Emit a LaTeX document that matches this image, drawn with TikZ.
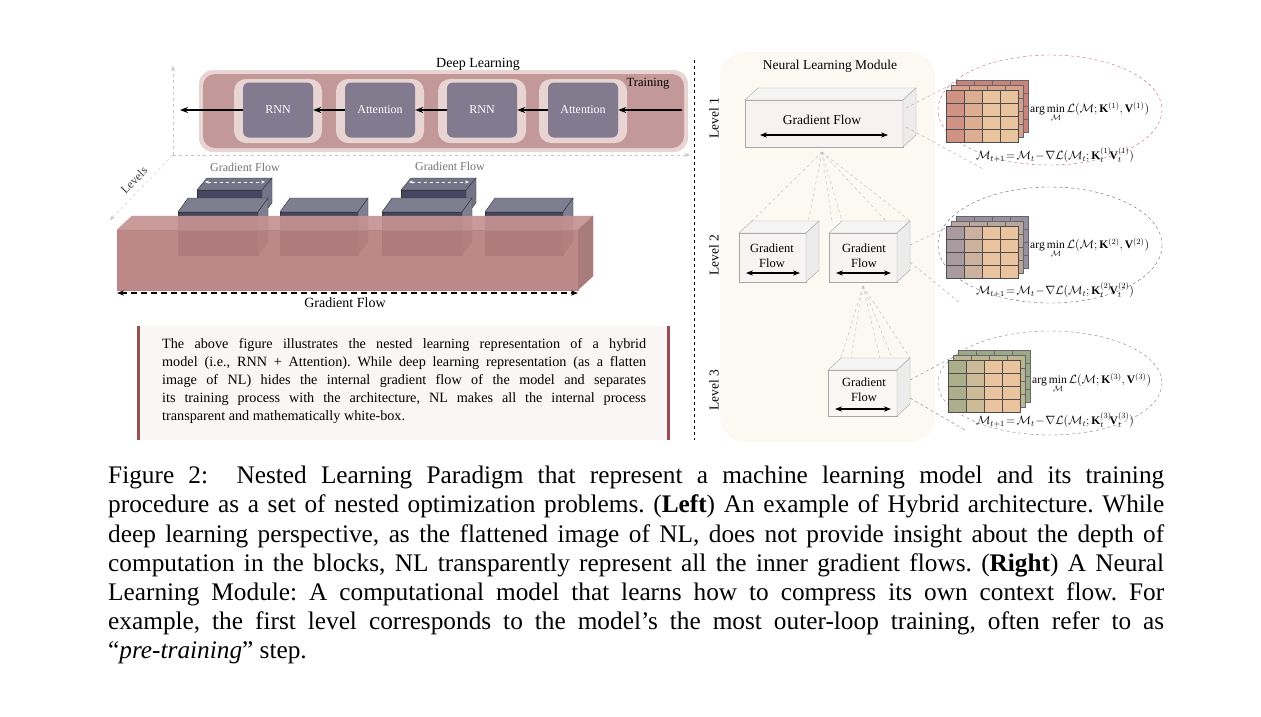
\documentclass[tikz,border=0pt]{standalone}
\usepackage{fontspec}
\usepackage{amsmath}
\setmainfont{Liberation Serif}
\usetikzlibrary{arrows.meta}
\definecolor{pinkbar}{RGB}{205,160,160}
\definecolor{blk}{RGB}{130,122,142}
\definecolor{slate}{RGB}{70,70,98}
\definecolor{prismc}{RGB}{185,128,128}
\definecolor{tanc}{RGB}{233,196,158}
\definecolor{redc}{RGB}{185,105,110}
\definecolor{bluec}{RGB}{115,120,160}
\definecolor{greenc}{RGB}{120,158,125}
\definecolor{cream}{RGB}{252,249,243}
\definecolor{boxbg}{RGB}{250,246,246}
\definecolor{darkred}{RGB}{150,80,80}
\newcommand\pz[8]{%
 \filldraw[#7] (#1,#2) rectangle (#3,#4);
 \filldraw[#8] (#1,#2)--({#1+#5},{#2-#6})--({#3+#5},{#2-#6})--(#3,#2)--cycle;
 \filldraw[#8] (#3,#2)--({#3+#5},{#2-#6})--({#3+#5},{#4-#6})--(#3,#4)--cycle;
}
\newcommand\wbox[5]{% x1 y1 x2 y2 fill
 \draw[gray!70,fill=#5] (#1,#2) rectangle (#3,#4);
 \draw[gray!70,fill=white!92!gray] (#1,#2)--({#1+13},{#2-12})--({#3+13},{#2-12})--(#3,#2)--cycle;
 \draw[gray!70,fill=white!85!gray] (#3,#2)--({#3+13},{#2-12})--({#3+13},{#4-12})--(#3,#4)--cycle;
}
\newcommand\mcube[3]{% x y color
 \foreach \i in {0,...,3}{\foreach \j in {0,...,3}{
  \draw[black!60,fill=#3!70!tanc] ({#1+10+18*\i},{#2-10+13*\j}) rectangle +(18,13);}}
 \foreach \i in {0,...,3}{\foreach \j in {0,...,3}{
  \draw[black!60,fill=#3!40!tanc] ({#1+5+18*\i},{#2-5+13*\j}) rectangle +(18,13);}}
 \foreach \i in {0,...,3}{\foreach \j in {0,...,3}{
  \pgfmathsetmacro\mix{\i==0 ? 55 : (\i==1 ? 25 : 0)}
  \draw[black!70,fill=#3!\mix!tanc] ({#1+18*\i},{#2+13*\j}) rectangle +(18,13);}}
}
\tikzset{
 blkbox/.style={fill=blk,rounded corners=6pt,minimum width=70pt,minimum height=55pt,text=white,font=\fontsize{12}{14}\selectfont},
 flow/.style={-{Stealth[length=8pt,width=6pt]},line width=1.4pt},
 axis/.style={gray!45,dashed,-{Stealth[length=5pt]}},
 lbl/.style={font=\fontsize{14}{16}\selectfont},
 gdash/.style={gray!55,dashed},
 dbl/.style={{Stealth[length=7pt]}-{Stealth[length=7pt]},line width=1.3pt},
 fml/.style={font=\fontsize{11.5}{13}\selectfont},
}
\begin{document}
\begin{tikzpicture}[x=1pt,y=-1pt]
\useasboundingbox[fill=white] (0,0) rectangle (1261,716);
% ---------- left panel
\node[lbl] (dl) at (478,64) {Deep Learning};
\fill[pinkbar!45,rounded corners=14pt] (199,70) rectangle (688,152);
\fill[pinkbar!95!black,rounded corners=12pt] (203,74) rectangle (684,148);
\foreach \x in {278,380,482,583}{\fill[pinkbar!45,rounded corners=12pt] (\x-44,79) rectangle (\x+44,143);}
\node[blkbox] (r1) at (278,110) {RNN};
\node[blkbox] (a1) at (380,110) {Attention};
\node[blkbox] (r2) at (482,110) {RNN};
\node[blkbox] (a2) at (583,110) {Attention};
\node[font=\fontsize{12.5}{14}\selectfont] (tr) at (648,84) {Training};
\coordinate (in) at (682,110);
\coordinate (out) at (180,110);
\draw[flow] (in) -- (a2);
\draw[flow] (a2) -- (r2);
\draw[flow] (r2) -- (a1);
\draw[flow] (a1) -- (r1);
\draw[flow] (r1) -- (out);
% axes
\coordinate (o) at (173,155);
\coordinate (ay) at (173,66);
\coordinate (ax) at (690,155);
\coordinate (az) at (110,220);
\draw[axis] (o)--(ay);
\draw[axis] (o)--(ax);
\draw[axis] (o)--(az);
\node[rotate=45,inner sep=0pt,font=\fontsize{12}{14}\selectfont,text=black!75] (lv) at (134,180) {Levels};
% blocks
\pz{197}{190}{262}{215}{10}{12}{draw=black!80,fill=slate}{draw=black!80,fill=slate!75!white}
\pz{401}{190}{466}{215}{10}{12}{draw=black!80,fill=slate}{draw=black!80,fill=slate!75!white}
\pz{178}{212}{258}{255}{10}{14}{draw=black!80,fill=slate}{draw=black!80,fill=slate!70!white}
\pz{280}{212}{358}{255}{10}{14}{draw=black!80,fill=slate}{draw=black!80,fill=slate!70!white}
\pz{382}{212}{462}{255}{10}{14}{draw=black!80,fill=slate}{draw=black!80,fill=slate!70!white}
\pz{485}{212}{563}{255}{10}{14}{draw=black!80,fill=slate}{draw=black!80,fill=slate!70!white}
\draw[white,dashed,{Stealth[length=4pt]}-{Stealth[length=4pt]}] (205,182)--(265,182);
\draw[white,dashed,{Stealth[length=4pt]}-{Stealth[length=4pt]}] (409,182)--(469,182);
\node[font=\fontsize{12}{14}\selectfont,text=black!55] (g1) at (245,167) {Gradient Flow};
\node[font=\fontsize{12}{14}\selectfont,text=black!55] (g2) at (450,166) {Gradient Flow};
% prism
\begin{scope}[fill opacity=0.93]
\pz{117}{230}{578}{290}{15}{14}{prismc}{prismc!85!white}
\end{scope}
\fill[prismc!75!black,opacity=.5] (578,230)--(593,216)--(593,276)--(578,290)--cycle;
\coordinate (bl) at (117,293);
\coordinate (br) at (578,293);
\draw[dbl,dash pattern=on 6pt off 4pt,line width=1.5pt] (bl)--(br);
\node[lbl] (gf) at (345,303) {Gradient Flow};
% text box
\fill[boxbg] (137,326) rectangle (670,440);
\draw[darkred,line width=3pt] (138.5,326)--(138.5,440);
\draw[darkred,line width=3pt] (668.5,326)--(668.5,440);
\node[anchor=north west,inner sep=0pt,text width=484pt,align=justify,font=\fontsize{14.2}{18}\selectfont] (tx) at (162,338)
{\frenchspacing The above figure illustrates the nested learning representation of a hybrid\linebreak
model (i.e., RNN + Attention). While deep learning representation (as a flatten\linebreak
image of NL) hides the internal gradient flow of the model and separates\linebreak
its training process with the architecture, NL makes all the internal process\linebreak
transparent and mathematically white-box.};
% divider
\coordinate (d1) at (694,60);
\coordinate (d2) at (694,440);
\draw[thick,dashed] (d1)--(d2);
% ---------- right panel
\fill[cream,rounded corners=25pt] (720,52) rectangle (935,442);
\node[font=\fontsize{13.5}{15}\selectfont] (nlm) at (830,66) {Neural Learning Module};
\node[rotate=90,font=\fontsize{13.5}{15}\selectfont] (L1) at (714,118) {Level 1};
\node[rotate=90,font=\fontsize{13.5}{15}\selectfont] (L2) at (714,255) {Level 2};
\node[rotate=90,font=\fontsize{13.5}{15}\selectfont] (L3) at (714,390) {Level 3};
% dashed fan lines
\coordinate (f1) at (822,152);
\foreach \p in {(752,221),(832,221),(842,221),(910,221),(806,233),(897,233)}{\draw[gdash] (f1)--\p;}
\coordinate (f2) at (863,286);
\foreach \p in {(841,358),(851,358),(880,358),(897,370),(910,358)}{\draw[gdash] (f2)--\p;}
\wbox{745}{100}{903}{147}{white!85!pinkbar}
\node[font=\fontsize{13.5}{15}\selectfont] (b1) at (822,120) {Gradient Flow};
\draw[dbl] (760,135)--(888,135);
\wbox{739}{233}{806}{282}{white!88!pinkbar}
\node[align=center,font=\fontsize{12.5}{15}\selectfont] (b2) at (772,256) {Gradient\\Flow};
\draw[dbl] (746,273)--(800,273);
\wbox{829}{233}{897}{282}{white!88!pinkbar}
\node[align=center,font=\fontsize{12.5}{15}\selectfont] (b3) at (864,256) {Gradient\\Flow};
\draw[dbl] (836,273)--(891,273);
\wbox{828}{370}{897}{416}{white!92!pinkbar}
\node[align=center,font=\fontsize{12.5}{15}\selectfont] (b4) at (864,390) {Gradient\\Flow};
\draw[dbl] (835,409)--(891,409);
% ellipses
\draw[dashed,redc] (1050,110) ellipse [x radius=112,y radius=55];
\draw[dashed,bluec!80!black] (1050,245) ellipse [x radius=112,y radius=58];
\draw[dashed,gray] (1050,383) ellipse [x radius=112,y radius=52];
\draw[dashed,redc!70] (906,108)--(960,80);
\draw[dashed,redc!70] (906,127)--(985,170);
\draw[dashed,bluec!70] (910,245)--(962,220);
\draw[dashed,bluec!70] (910,262)--(960,303);
\draw[dashed,gray] (910,380)--(962,352);
\draw[dashed,gray] (910,398)--(965,430);
\mcube{946}{90}{redc}
\mcube{946}{226}{bluec}
\mcube{948}{360}{greenc}
\node[anchor=west,inner sep=0pt,fml] (e1) at (1030,112) {$\arg\min\limits_{\mathcal M}\mathcal L(\mathcal M;\mathbf K^{(1)},\mathbf V^{(1)})$};
\node[fml] (u1) at (1055,155) {$\mathcal M_{t+1}\!=\!\mathcal M_t\!-\!\nabla\mathcal L(\mathcal M_t;\mathbf K_t^{(1)}\!\mathbf V_t^{(1)})$};
\node[anchor=west,inner sep=0pt,fml] (e2) at (1030,248) {$\arg\min\limits_{\mathcal M}\mathcal L(\mathcal M;\mathbf K^{(2)},\mathbf V^{(2)})$};
\node[fml] (u2) at (1055,290) {$\mathcal M_{t+1}\!=\!\mathcal M_t\!-\!\nabla\mathcal L(\mathcal M_t;\mathbf K_t^{(2)}\!\mathbf V_t^{(2)})$};
\node[anchor=west,inner sep=0pt,fml] (e3) at (1032,383) {$\arg\min\limits_{\mathcal M}\mathcal L(\mathcal M;\mathbf K^{(3)},\mathbf V^{(3)})$};
\node[fml] (u3) at (1055,420) {$\mathcal M_{t+1}\!=\!\mathcal M_t\!-\!\nabla\mathcal L(\mathcal M_t;\mathbf K_t^{(3)}\!\mathbf V_t^{(3)})$};
% ---------- caption
\node[anchor=north west,inner sep=0pt,text width=1056pt,align=justify,font=\fontsize{25.3}{29.2}\selectfont] (cap) at (108,466)
{\frenchspacing Figure 2:\ \ Nested Learning Paradigm that represent a machine learning model and its training\linebreak
procedure as a set of nested optimization problems. (\textbf{Left}) An example of Hybrid architecture. While\linebreak
deep learning perspective, as the flattened image of NL, does not provide insight about the depth of\linebreak
computation in the blocks, NL transparently represent all the inner gradient flows. (\textbf{Right}) A Neural\linebreak
Learning Module: A computational model that learns how to compress its own context flow. For\linebreak
example, the first level corresponds to the model's the most outer-loop training, often refer to as\linebreak
``\textit{pre-training}'' step.};
\end{tikzpicture}
\end{document}
